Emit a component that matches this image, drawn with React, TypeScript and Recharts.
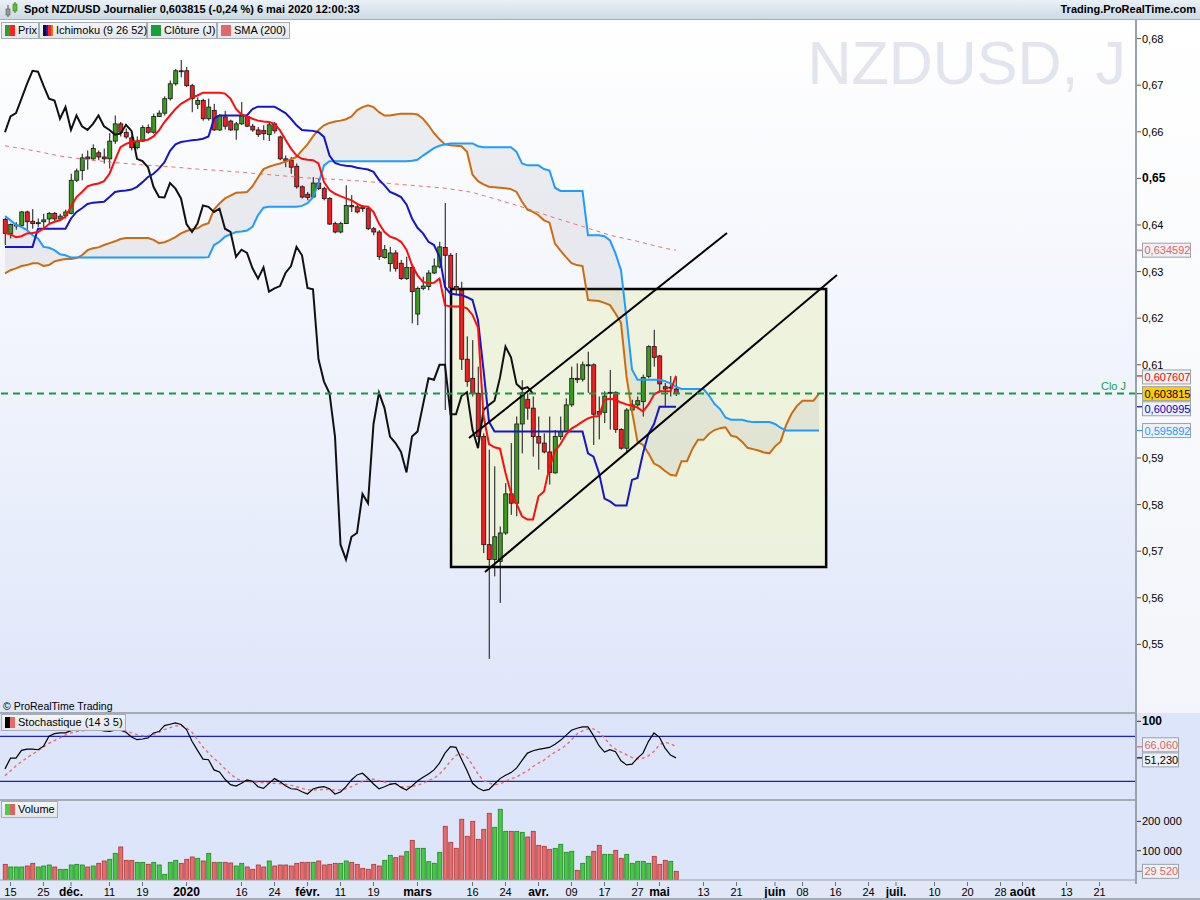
import React from 'react';
import { ComposedChart, Bar, Line, Area, XAxis, YAxis, ReferenceLine, ReferenceArea } from 'recharts';

const FONT = "'Liberation Sans', Arial, Helvetica, sans-serif";

// one slot per trading day, slot 0 = 14 Nov 2019 (25 Dec and 1 Jan have no bar)
const X_DOMAIN: [number, number] = [-0.909, 205.636];
const PRICE_DOMAIN: [number, number] = [0.535494, 0.683562];
const STOCH_DOMAIN: [number, number] = [-4.93, 111.07];
const VOLUME_DOMAIN: [number, number] = [0, 273000];

const opens = [
  0.6412, 0.6382, 0.6398, 0.6399, 0.6428, 0.6408, 0.6403, 0.6407, 0.6413, 0.6425,
  0.6413, 0.642, 0.6425, 0.6496, 0.6517, 0.6546, 0.6542, 0.6555, 0.6546, 0.6542,
  0.658, 0.6617, 0.6599, 0.6587, 0.6566, 0.658, 0.6609, 0.6599, 0.6633, 0.664,
  0.6671, 0.6703, 0.6731, 0.6731, 0.6699, 0.6659, 0.6667, 0.6628, 0.6646, 0.6604,
  0.6632, 0.6623, 0.6604, 0.6617, 0.6633, 0.6612, 0.6604, 0.6603, 0.6594, 0.6617,
  0.6589, 0.6542, 0.6539, 0.6526, 0.6482, 0.6466, 0.646, 0.649, 0.6478, 0.6457,
  0.6403, 0.6385, 0.6403, 0.6442, 0.6439, 0.6439, 0.6435, 0.6392, 0.6385, 0.633,
  0.6317, 0.634, 0.6318, 0.6285, 0.6309, 0.6209, 0.6264, 0.6268, 0.6297, 0.631,
  0.6352, 0.6335, 0.6268, 0.626, 0.6112, 0.6071, 0.6039, 0.5946, 0.5714, 0.5682,
  0.5678, 0.5739, 0.5823, 0.5803, 0.5973, 0.6026, 0.6007, 0.5946, 0.5932, 0.5913,
  0.5868, 0.5946, 0.5957, 0.6014, 0.6071, 0.6069, 0.6098, 0.61, 0.6, 0.5998,
  0.604, 0.6041, 0.5961, 0.5921, 0.6003, 0.6014, 0.6021, 0.6075, 0.6139, 0.6119,
  0.6053, 0.605, 0.6048,
];
const highs = [
  0.6415, 0.6403, 0.6406, 0.643, 0.6431, 0.6434, 0.6414, 0.6424, 0.6428, 0.6428,
  0.6424, 0.6433, 0.651, 0.6521, 0.6553, 0.656, 0.6573, 0.656, 0.6564, 0.6597,
  0.6635, 0.6621, 0.6607, 0.6592, 0.659, 0.6614, 0.6616, 0.6639, 0.6646, 0.6676,
  0.671, 0.6735, 0.6754, 0.6739, 0.6703, 0.6674, 0.6671, 0.6671, 0.666, 0.6638,
  0.6645, 0.6626, 0.6621, 0.6664, 0.6638, 0.6617, 0.661, 0.6614, 0.6619, 0.6621,
  0.6592, 0.6549, 0.6546, 0.6532, 0.6485, 0.6471, 0.6503, 0.65, 0.6482, 0.646,
  0.6407, 0.6407, 0.6485, 0.6464, 0.6446, 0.6442, 0.6439, 0.6396, 0.6389, 0.6357,
  0.6353, 0.6346, 0.6325, 0.6332, 0.6314, 0.6268, 0.6289, 0.6303, 0.6328, 0.6364,
  0.6447, 0.634, 0.634, 0.6278, 0.6161, 0.6153, 0.6096, 0.5953, 0.5918, 0.5882,
  0.5753, 0.5846, 0.5932, 0.5989, 0.6067, 0.6039, 0.6032, 0.5989, 0.5953, 0.5989,
  0.596, 0.5989, 0.6028, 0.6096, 0.6103, 0.6107, 0.6128, 0.6103, 0.6032, 0.6043,
  0.6089, 0.6043, 0.5964, 0.6007, 0.6025, 0.6032, 0.6079, 0.6142, 0.6175, 0.6121,
  0.6061, 0.6076, 0.6073,
];
const lows = [
  0.6357, 0.6371, 0.639, 0.6396, 0.6389, 0.6392, 0.6396, 0.6392, 0.6403, 0.6407,
  0.6409, 0.6414, 0.6423, 0.6492, 0.6496, 0.6519, 0.6539, 0.6539, 0.6532, 0.6521,
  0.6574, 0.659, 0.6585, 0.656, 0.6562, 0.6578, 0.6596, 0.6596, 0.6632, 0.6635,
  0.6667, 0.6699, 0.6717, 0.6696, 0.6642, 0.6649, 0.6624, 0.6624, 0.6602, 0.6602,
  0.6605, 0.6602, 0.6583, 0.6615, 0.661, 0.66, 0.6589, 0.6582, 0.658, 0.6596,
  0.6539, 0.6524, 0.651, 0.6478, 0.6457, 0.6453, 0.6459, 0.6475, 0.6453, 0.64,
  0.6382, 0.6382, 0.6402, 0.6428, 0.6425, 0.6428, 0.6389, 0.6378, 0.6325, 0.6328,
  0.63, 0.63, 0.6282, 0.6282, 0.6189, 0.6185, 0.626, 0.626, 0.6295, 0.6307,
  0.6003, 0.626, 0.625, 0.6089, 0.6053, 0.6032, 0.5939, 0.5696, 0.5469, 0.5646,
  0.5589, 0.5735, 0.5778, 0.5775, 0.591, 0.5982, 0.5903, 0.5875, 0.591, 0.5843,
  0.5867, 0.5939, 0.5956, 0.601, 0.6061, 0.6064, 0.604, 0.5928, 0.594, 0.5975,
  0.5961, 0.5954, 0.5918, 0.591, 0.6, 0.601, 0.5989, 0.6071, 0.6096, 0.604,
  0.6011, 0.6032, 0.6033,
];
const closes = [
  0.6382, 0.6401, 0.64, 0.6428, 0.6407, 0.6403, 0.6405, 0.6411, 0.6425, 0.6413,
  0.6419, 0.6428, 0.6496, 0.6516, 0.6544, 0.6542, 0.6564, 0.6546, 0.6542, 0.658,
  0.6617, 0.6599, 0.6589, 0.6566, 0.658, 0.6609, 0.6599, 0.6633, 0.664, 0.6671,
  0.6703, 0.6731, 0.6729, 0.6699, 0.6671, 0.6667, 0.6628, 0.6653, 0.6604, 0.6635,
  0.6612, 0.6604, 0.6617, 0.6635, 0.6612, 0.6604, 0.6594, 0.6596, 0.6615, 0.6602,
  0.6542, 0.6537, 0.6524, 0.6482, 0.646, 0.6459, 0.649, 0.6478, 0.6457, 0.6402,
  0.6385, 0.6403, 0.6442, 0.6439, 0.6428, 0.6435, 0.6392, 0.6385, 0.6332, 0.6347,
  0.634, 0.6307, 0.6285, 0.6309, 0.6257, 0.6264, 0.6269, 0.6297, 0.6312, 0.6353,
  0.6335, 0.6265, 0.6262, 0.6112, 0.6064, 0.6039, 0.5946, 0.5714, 0.5682, 0.5731,
  0.5739, 0.5823, 0.5803, 0.5973, 0.604, 0.6007, 0.5946, 0.5932, 0.5913, 0.5869,
  0.5946, 0.5957, 0.6014, 0.6071, 0.6068, 0.61, 0.61, 0.5994, 0.5994, 0.6033,
  0.6041, 0.5961, 0.5921, 0.6003, 0.6014, 0.6023, 0.6073, 0.6139, 0.6116, 0.6059,
  0.6048, 0.6052, 0.603815,
];
const tenkan = [
  0.6383, 0.638, 0.6374, 0.6376, 0.6382, 0.6383, 0.6385, 0.6392, 0.6402, 0.6407,
  0.641, 0.6418, 0.6439, 0.646, 0.6471, 0.6483, 0.6487, 0.6489, 0.6494, 0.651,
  0.6539, 0.6567, 0.6574, 0.6578, 0.658, 0.6582, 0.6583, 0.659, 0.6603, 0.6621,
  0.6635, 0.6649, 0.666, 0.6667, 0.6674, 0.6678, 0.6684, 0.6684, 0.6684, 0.6684,
  0.6682, 0.6671, 0.6649, 0.6637, 0.6633, 0.6628, 0.6624, 0.6622, 0.6621, 0.6617,
  0.6603, 0.6583, 0.6564, 0.6549, 0.6542, 0.654, 0.6539, 0.6532, 0.6492, 0.6475,
  0.6467, 0.6462, 0.6457, 0.6453, 0.6446, 0.644, 0.6439, 0.6428, 0.6403, 0.6385,
  0.6375, 0.6371, 0.6364, 0.6347, 0.6314, 0.6292, 0.6278, 0.6275, 0.6276, 0.6285,
  0.6228, 0.6225, 0.6225, 0.6225, 0.6221, 0.6207, 0.618, 0.599, 0.593, 0.5923,
  0.592, 0.5868, 0.5825, 0.5802, 0.5775, 0.5768, 0.5768, 0.5818, 0.5828, 0.588,
  0.5915, 0.593, 0.595, 0.5963, 0.597, 0.5978, 0.5985, 0.5989, 0.599, 0.6025,
  0.6027, 0.6025, 0.6019, 0.6015, 0.6012, 0.6008, 0.6, 0.6015, 0.6036, 0.6043,
  0.6043, 0.6043, 0.607607,
];
const kijun = [
  0.6353, 0.6353, 0.6353, 0.6353, 0.6353, 0.6353, 0.6392, 0.6392, 0.6392, 0.6392,
  0.6392, 0.6392, 0.6414, 0.6428, 0.6436, 0.6445, 0.6448, 0.6449, 0.645, 0.646,
  0.6471, 0.6473, 0.6474, 0.6476, 0.6482, 0.6492, 0.6503, 0.651, 0.6521, 0.6535,
  0.6559, 0.6573, 0.6578, 0.658, 0.6582, 0.6583, 0.6585, 0.659, 0.6628, 0.6635,
  0.6635, 0.6635, 0.6635, 0.6635, 0.6635, 0.6649, 0.6654, 0.6654, 0.6654, 0.6654,
  0.6647, 0.664, 0.6628, 0.6614, 0.6604, 0.6603, 0.6602, 0.6599, 0.6589, 0.6549,
  0.6533, 0.6529, 0.6527, 0.6526, 0.6523, 0.6521, 0.6519, 0.6514, 0.6497, 0.6485,
  0.6471, 0.6466, 0.646, 0.6444, 0.6414, 0.6394, 0.6382, 0.6364, 0.6357, 0.6332,
  0.6267, 0.6253, 0.6251, 0.625, 0.6245, 0.6239, 0.6196, 0.6089, 0.5978, 0.5957,
  0.5957, 0.5957, 0.5957, 0.5957, 0.5957, 0.5957, 0.5957, 0.5957, 0.5957, 0.5957,
  0.5957, 0.5957, 0.5957, 0.5957, 0.5957, 0.5957, 0.591, 0.5903, 0.5868, 0.5813,
  0.5807, 0.5798, 0.5798, 0.5798, 0.5853, 0.5857, 0.591, 0.5952, 0.5973, 0.600995,
  0.600995, 0.600995, 0.600995,
];
const senkouA = [
  0.6419, 0.641, 0.64, 0.6396, 0.6389, 0.6378, 0.6371, 0.6353, 0.6351, 0.6346,
  0.6337, 0.6335, 0.633, 0.633, 0.633, 0.633, 0.633, 0.633, 0.633, 0.633,
  0.633, 0.633, 0.633, 0.633, 0.633, 0.633, 0.633, 0.633, 0.633, 0.633,
  0.633, 0.633, 0.633, 0.633, 0.633, 0.633, 0.633, 0.6331, 0.6357, 0.6364,
  0.6375, 0.638, 0.6385, 0.6386, 0.6388, 0.6396, 0.6421, 0.6437, 0.6439, 0.6439,
  0.6439, 0.6439, 0.6439, 0.6439, 0.6441, 0.6447, 0.6459, 0.6489, 0.6528, 0.6537,
  0.6537, 0.6537, 0.6537, 0.6537, 0.6537, 0.6537, 0.6537, 0.6537, 0.6537, 0.6537,
  0.6537, 0.6537, 0.6537, 0.6537, 0.6538, 0.654, 0.6549, 0.6557, 0.6565, 0.657,
  0.6573, 0.6575, 0.6575, 0.6575, 0.6575, 0.6575, 0.6569, 0.6567, 0.6567, 0.6567,
  0.6567, 0.6567, 0.6567, 0.6557, 0.6532, 0.6528, 0.6528, 0.6528, 0.652, 0.6517,
  0.648, 0.6473, 0.6473, 0.6473, 0.6473, 0.6473, 0.6378, 0.6378, 0.6378, 0.6376,
  0.6367, 0.6339, 0.6303, 0.62, 0.609, 0.6068, 0.6068, 0.6068, 0.6068, 0.6068,
  0.6065, 0.606, 0.6053, 0.6048, 0.6048, 0.6048, 0.6048, 0.6048, 0.6034, 0.6016,
  0.6005, 0.5987, 0.5982, 0.5982, 0.5982, 0.5979, 0.5977, 0.5977, 0.5977, 0.5977,
  0.5973, 0.5965, 0.595892, 0.595892, 0.595892, 0.595892, 0.595892, 0.595892, 0.595892,
];
const senkouB = [
  0.6296, 0.6303, 0.6307, 0.6312, 0.6314, 0.6318, 0.6318, 0.6312, 0.6314, 0.6322,
  0.6325, 0.6327, 0.6327, 0.6329, 0.6335, 0.6346, 0.635, 0.6352, 0.6357, 0.6361,
  0.6365, 0.637, 0.6372, 0.6372, 0.6372, 0.6372, 0.6372, 0.6368, 0.6361, 0.6363,
  0.6368, 0.6374, 0.6382, 0.6387, 0.6391, 0.6393, 0.64, 0.6404, 0.6433, 0.6446,
  0.6457, 0.6463, 0.6469, 0.647, 0.6471, 0.6483, 0.6502, 0.652, 0.6525, 0.6529,
  0.6532, 0.6536, 0.6541, 0.6546, 0.656, 0.6573, 0.659, 0.6604, 0.6614, 0.6619,
  0.6622, 0.6624, 0.6627, 0.6633, 0.6646, 0.6653, 0.6657, 0.6653, 0.6642, 0.6635,
  0.6635, 0.6637, 0.6639, 0.6639, 0.6639, 0.6637, 0.6628, 0.6614, 0.6597, 0.6584,
  0.6573, 0.6571, 0.657, 0.6569, 0.6557, 0.6508, 0.6494, 0.6487, 0.6482, 0.6481,
  0.648, 0.6479, 0.6477, 0.6471, 0.645, 0.6433, 0.6428, 0.6421, 0.641, 0.6405,
  0.636, 0.6345, 0.6331, 0.6318, 0.6314, 0.6312, 0.6239, 0.6238, 0.6237, 0.6233,
  0.6228, 0.621, 0.619, 0.6075, 0.6, 0.5935, 0.5928, 0.591, 0.5888, 0.5882,
  0.5872, 0.5864, 0.5862, 0.5893, 0.5893, 0.592, 0.5939, 0.5939, 0.5952, 0.596,
  0.5964, 0.5966, 0.5948, 0.5945, 0.5935, 0.5922, 0.5919, 0.5916, 0.5912, 0.591,
  0.5925, 0.5935, 0.597, 0.5995, 0.6012, 0.6023, 0.6023, 0.6023, 0.6038,
];
// lagging span: the closes plotted 26 bars back
const chikou = closes.slice(26);
const smaSlots = [0, 5, 10, 15, 20, 25, 30, 35, 40, 45, 50, 55, 60, 65, 70, 75, 80, 85, 90, 95, 100, 105, 110, 115, 120, 122];
const smaValues = [
  0.657, 0.656, 0.6548, 0.654, 0.6534, 0.6529, 0.6525, 0.652, 0.6516, 0.6511, 0.6506, 0.6501, 0.6498,
  0.6494, 0.6489, 0.6484, 0.6479, 0.647, 0.6453, 0.6435, 0.6415, 0.6397, 0.6378, 0.6365, 0.635, 0.634592,
];
const stochK = [
  36.6, 50.9, 50.9, 61.2, 63.0, 63.0, 62.1, 66.6, 80.0, 83.6,
  84.5, 84.5, 87.6, 89.9, 90.7, 89.9, 89.0, 88.5, 87.2, 86.7,
  88.1, 88.1, 85.4, 79.1, 75.5, 76.4, 77.8, 84.5, 86.3, 94.3,
  96.1, 97.9, 95.7, 89.0, 73.3, 61.2, 49.5, 48.7, 35.2, 32.5,
  22.7, 15.5, 13.7, 17.3, 21.8, 20.0, 12.8, 10.6, 17.3, 23.6,
  19.5, 14.2, 10.1, 9.7, 6.1, 3.0, 9.7, 11.9, 12.8, 10.1,
  3.0, 5.7, 12.8, 21.8, 28.5, 30.7, 24.0, 16.4, 10.1, 12.8,
  16.0, 17.3, 11.9, 8.3, 13.7, 20.4, 25.4, 29.8, 35.2, 44.2,
  57.6, 66.1, 65.2, 49.5, 34.3, 17.3, 11.0, 7.5, 9.2, 16.4,
  23.6, 28.1, 31.6, 37.5, 47.8, 57.6, 60.7, 62.5, 63.9, 65.2,
  69.3, 74.6, 81.3, 88.1, 90.7, 92.5, 92.5, 80.9, 67.5, 59.0,
  62.1, 59.4, 47.3, 41.9, 42.8, 50.9, 57.6, 73.3, 84.5, 78.7,
  64.3, 54.9, 51.23,
];
const stochD = [
  27.6, 33.9, 40.6, 46.4, 51.3, 56.3, 60.7, 65.7, 70.6, 74.6,
  77.8, 81.8, 84.5, 86.3, 87.2, 88.1, 88.1, 88.1, 88.1, 88.1,
  88.1, 88.1, 87.2, 84.5, 82.2, 80.9, 80.9, 82.7, 85.4, 89.0,
  91.6, 93.9, 94.3, 91.2, 85.4, 75.5, 65.7, 57.6, 50.4, 44.2,
  36.6, 29.8, 24.0, 20.9, 19.5, 19.1, 18.7, 18.2, 17.8, 17.3,
  16.9, 16.0, 14.6, 12.8, 10.6, 8.8, 8.4, 8.8, 9.2, 8.8,
  8.4, 8.8, 10.1, 12.8, 16.4, 20.0, 22.7, 22.7, 20.9, 19.1,
  17.3, 16.0, 12.8, 12.8, 13.3, 14.6, 17.3, 20.9, 24.0, 29.8,
  37.5, 46.9, 54.5, 56.7, 52.2, 41.9, 29.8, 20.9, 17.8, 15.5,
  16.4, 20.0, 23.6, 25.4, 30.3, 33.9, 39.7, 44.2, 48.2, 54.0,
  59.0, 63.0, 67.9, 75.5, 83.1, 87.2, 89.9, 89.9, 85.4, 77.8,
  68.8, 63.0, 59.0, 55.4, 51.8, 50.0, 50.9, 54.0, 59.9, 68.8,
  71.9, 70.1, 66.06,
];
const volumes = [
  53500, 44400, 44400, 44400, 47800, 56900, 44400, 47800, 51200, 44400,
  36400, 36400, 51200, 53500, 51200, 44400, 47800, 56900, 64900, 70600,
  91000, 112700, 67100, 67100, 60300, 60300, 53500, 60300, 51200, 19300,
  60300, 67100, 56900, 70600, 78500, 74000, 64900, 91000, 60300, 60300,
  60300, 58000, 47800, 56900, 44400, 36400, 51200, 44400, 64900, 47800,
  51200, 51200, 47800, 56900, 60300, 60300, 60300, 64900, 51200, 53500,
  56900, 56900, 64900, 60300, 53500, 39800, 36400, 53500, 47800, 67100,
  84200, 76200, 81900, 96700, 135400, 108100, 108100, 62600, 56900, 94500,
  183200, 128600, 108100, 207100, 149100, 200300, 138800, 173000, 227600, 179800,
  241300, 166100, 166100, 166100, 162700, 146800, 166100, 118400, 114900, 104700,
  108100, 121800, 94500, 97900, 33000, 56900, 80800, 97900, 118400, 87600,
  87600, 101300, 74000, 87600, 56900, 63700, 63700, 56900, 80800, 53500,
  67100, 63700, 29520,
];
const dateTicks = [1, 7, 12, 19, 25, 33, 43, 49, 55, 61, 67, 75, 85, 91, 97, 103, 109, 115, 119, 127, 133, 140, 145, 151, 157, 162, 169, 175, 181, 185, 193, 199];
const dateLabels = ['15', '25', 'déc.', '11', '19', '2020', '16', '24', 'févr.', '11', '19', 'mars', '16', '24', 'avr.', '09', '17', '27', 'mai', '13', '21', 'juin', '08', '16', '24', 'juil.', '10', '20', '28', 'août', '13', '21'];
const boldDateLabels = ['déc.', '2020', 'févr.', 'mars', 'avr.', 'mai', 'juin', 'juil.', 'août'];
const priceTicks = [0.55, 0.56, 0.57, 0.58, 0.59, 0.61, 0.62, 0.63, 0.64, 0.65, 0.66, 0.67, 0.68];
const stochTicks = [100];
const volumeTicks = [100000, 200000];

// drawn objects (in chart data coordinates: slot, price)
const boxZone = { x1: 81.1, x2: 149.3, low: 0.56661, high: 0.62627 };
const channelUpper = [{ x: 84.36, y: 0.59429 }, { x: 131.27, y: 0.63828 }];
const channelLower = [{ x: 87.27, y: 0.56554 }, { x: 151.27, y: 0.62927 }];
const lastClose = 0.603815;

const rows = senkouA.map((ssa, i) => {
  const si = smaSlots.indexOf(i);
  return {
    i,
    o: opens[i], h: highs[i], l: lows[i], c: closes[i],
    tenkan: tenkan[i], kijun: kijun[i], chikou: chikou[i],
    ssa, ssb: senkouB[i],
    sma: si >= 0 ? smaValues[si] : undefined,
    k: stochK[i], d: stochD[i], v: volumes[i],
  };
});

const candleKey = (r: any) => (r.o == null ? undefined : [r.l, r.h]);
const cloudKey = (r: any) => [r.ssa, r.ssb];

const renderCandle = (props: any) => {
  const { x, y, width, height, payload } = props;
  if (!payload || payload.o == null || !isFinite(y) || !isFinite(height)) return <g />;
  const { o, h, l, c } = payload;
  const ratio = height / (h - l);
  const yo = y + (h - o) * ratio;
  const yc = y + (h - c) * ratio;
  const top = Math.min(yo, yc);
  const bot = Math.max(yo, yc);
  const cx = x + width / 2;
  const up = c >= o;
  return (
    <g>
      <line x1={cx} x2={cx} y1={y} y2={y + height} stroke="#111" strokeWidth={1} />
      <rect x={x} y={top} width={width} height={Math.max(bot - top, 1)} fill={up ? '#3c9c1c' : '#f01e1e'} stroke="#151515" strokeWidth={0.8} />
    </g>
  );
};

const renderVolume = (props: any) => {
  const { x, y, width, height, payload } = props;
  if (!payload || payload.v == null || !isFinite(y) || !isFinite(height)) return <g />;
  const up = payload.c >= payload.o;
  return <rect x={x} y={y} width={width} height={height} fill={up ? '#48c848' : '#e86c6c'} stroke={up ? '#1c861c' : '#a83434'} strokeWidth={0.8} />;
};

const PriceTick = (props: any) => {
  const { x, y, payload } = props;
  const v = payload.value;
  const bold = Math.abs(v - 0.65) < 1e-6;
  return (
    <text x={x} y={y} dy={4} fontSize={bold ? 12 : 11} fontWeight={bold ? 'bold' : 'normal'} fill="#000" fontFamily={FONT}>
      {v.toFixed(2).replace('.', ',')}
    </text>
  );
};

const StochTick = (props: any) => {
  const { x, y, payload } = props;
  return (
    <text x={x} y={y} dy={4} fontSize={12} fontWeight="bold" fill="#000" fontFamily={FONT}>{payload.value}</text>
  );
};

const VolumeTick = (props: any) => {
  const { x, y, payload } = props;
  const s = String(payload.value).replace(/\B(?=(\d{3})+(?!\d))/g, ' ');
  return <text x={x} y={y} dy={4} fontSize={11} fill="#000" fontFamily={FONT}>{s}</text>;
};

const DateTick = (props: any) => {
  const { x, y, payload } = props;
  const idx = dateTicks.indexOf(payload.value);
  if (idx < 0) return <g />;
  const label = dateLabels[idx];
  const bold = boldDateLabels.includes(label);
  return (
    <g>
      <line x1={x} x2={x} y1={y} y2={y + 4} stroke="#6a7280" />
      <text x={x} y={y + 14} textAnchor="middle" fontSize={bold ? 12 : 11} fontWeight={bold ? 'bold' : 'normal'} fill="#000" fontFamily={FONT}>
        {label}
      </text>
    </g>
  );
};

const ValueBox = (props: any) => {
  const { viewBox, text, color, bg, tick, nudge = 0, boxWidth = 48 } = props;
  if (!viewBox) return null;
  const ax = viewBox.x + viewBox.width;
  const yv = viewBox.y;
  const cy = yv + nudge;
  return (
    <g>
      <line x1={ax + 1} x2={ax + 6} y1={yv} y2={yv} stroke={tick || color} strokeWidth={1.2} />
      <rect x={ax + 6.5} y={cy - 7} width={boxWidth} height={14} fill={bg || '#eef1f6'} stroke="#98a2ad" strokeWidth={1} />
      <text x={ax + 8.5} y={cy + 4} fontSize={11} fill={color} fontFamily={FONT}>{text}</text>
    </g>
  );
};

const CloseLabel = (props: any) => {
  const { viewBox } = props;
  if (!viewBox) return null;
  return (
    <text x={viewBox.x + viewBox.width - 10} y={viewBox.y - 4} textAnchor="end" fontSize={11} fill="#14a03c" fontFamily={FONT}>
      Clo J
    </text>
  );
};

const LegendBox = ({ left, top, width, colors, text }: { left: number; top: number; width: number; colors: string[]; text: string }) => (
  <div
    style={{
      position: 'absolute', left, top, width, height: 17, boxSizing: 'border-box',
      border: '1px solid #a6afb9', background: 'linear-gradient(#f3f5f7, #e2e6ea)',
      fontSize: 11, lineHeight: '15px', color: '#000', fontFamily: FONT, whiteSpace: 'nowrap',
    }}
  >
    <div style={{ position: 'absolute', left: 3, top: 2, width: 10, height: 11, display: 'flex' }}>
      {colors.map((c, k) => (
        <div key={k} style={{ flex: 1, background: c }} />
      ))}
    </div>
    <span style={{ position: 'absolute', left: 16, top: 0 }}>{text}</span>
  </div>
);

export default function App() {
  return (
    <div style={{ position: 'absolute', left: 0, top: 0, width: 1200, height: 900, overflow: 'hidden', background: '#dfe6f8', fontFamily: FONT }}>
      {/* title bar */}
      <div style={{ position: 'absolute', left: 0, top: 0, width: 1200, height: 19, background: 'linear-gradient(#eaf1f6, #cbdae5)', borderBottom: '1px solid #9fb0bf' }}>
        <svg width={16} height={16} style={{ position: 'absolute', left: 3, top: 2 }}>
          <line x1={5} x2={5} y1={3} y2={15} stroke="#555" />
          <rect x={3} y={7} width={4} height={6} fill="#9a9a9a" stroke="#555" strokeWidth={0.6} />
          <line x1={12} x2={12} y1={0} y2={11} stroke="#555" />
          <rect x={10} y={2} width={4} height={7} fill="#59c42a" stroke="#3a7a20" strokeWidth={0.6} />
        </svg>
        <span style={{ position: 'absolute', left: 24, top: 2, fontSize: 11, fontWeight: 'bold', lineHeight: '15px', whiteSpace: 'nowrap' }}>
          Spot NZD/USD Journalier 0,603815 (-0,24 %) 6 mai 2020 12:00:33
        </span>
        <span style={{ position: 'absolute', right: 4, top: 2, fontSize: 11, fontWeight: 'bold', lineHeight: '15px', whiteSpace: 'nowrap' }}>
          Trading.ProRealTime.com
        </span>
      </div>

      {/* panel backgrounds */}
      <div style={{ position: 'absolute', left: 0, top: 20, width: 1136, height: 693, background: 'linear-gradient(#ffffff 0%, #f2f5fc 45%, #dfe6fa 100%)' }} />
      <div style={{ position: 'absolute', left: 1136, top: 20, width: 64, height: 693, background: 'linear-gradient(#ffffff, #f3f5fa)' }} />
      <div style={{ position: 'absolute', left: 0, top: 713, width: 1200, height: 167, background: '#dde5fa' }} />
      <div style={{ position: 'absolute', left: 0, top: 880, width: 1200, height: 20, background: '#e0e7f7' }} />

      {/* watermark */}
      <svg width={1200} height={100} style={{ position: 'absolute', left: 0, top: 0 }}>
        <text x={1126} y={84} textAnchor="end" fontSize={61} fill="#e3e5ee" fontFamily={FONT}>NZDUSD, J</text>
      </svg>

      {/* main price panel */}
      <div style={{ position: 'absolute', left: 0, top: 22 }}>
        <ComposedChart width={1200} height={690} data={rows} margin={{ top: 0, right: 0, bottom: 0, left: 0 }}>
          <XAxis dataKey="i" type="number" domain={X_DOMAIN} allowDataOverflow hide />
          <YAxis
            orientation="right" width={64} domain={PRICE_DOMAIN} allowDataOverflow ticks={priceTicks} interval={0}
            axisLine={false} tickLine={{ stroke: '#555' }} tickSize={5} tickMargin={1} tick={<PriceTick />}
          />
          <ReferenceArea
            x1={boxZone.x1} x2={boxZone.x2} y1={boxZone.low} y2={boxZone.high}
            fill="#eef3d6" fillOpacity={0.8} stroke="#000" strokeWidth={2.5} ifOverflow="visible" zIndex={50}
          />
          <Area dataKey={cloudKey} type="linear" stroke="none" fill="#80808e" fillOpacity={0.12} isAnimationActive={false} zIndex={60} />
          <Line dataKey="sma" type="linear" stroke="#e87474" strokeWidth={1} strokeDasharray="4 4" dot={false} connectNulls isAnimationActive={false} />
          <Line dataKey="ssb" type="linear" stroke="#cd6c0e" strokeWidth={2} dot={false} isAnimationActive={false} />
          <Line dataKey="ssa" type="linear" stroke="#1f9cff" strokeWidth={2} dot={false} isAnimationActive={false} />
          <Bar dataKey={candleKey} barSize={4} shape={renderCandle} isAnimationActive={false} />
          <Line dataKey="chikou" type="linear" stroke="#111" strokeWidth={2} dot={false} isAnimationActive={false} />
          <Line dataKey="kijun" type="linear" stroke="#1616c6" strokeWidth={2} dot={false} isAnimationActive={false} />
          <Line dataKey="tenkan" type="linear" stroke="#ff0c0c" strokeWidth={2} dot={false} isAnimationActive={false} />
          <ReferenceLine segment={channelUpper} stroke="#000" strokeWidth={2} ifOverflow="visible" />
          <ReferenceLine segment={channelLower} stroke="#000" strokeWidth={2} ifOverflow="visible" />
          <ReferenceLine y={lastClose} stroke="#139b3d" strokeWidth={2} strokeDasharray="7 5" label={<CloseLabel />} />
          <ReferenceLine y={smaValues[smaValues.length - 1]} stroke="none" label={<ValueBox text="0,634592" color="#e26464" />} />
          <ReferenceLine y={tenkan[tenkan.length - 1]} stroke="none" label={<ValueBox text="0,607607" color="#ff0000" nudge={1} />} />
          <ReferenceLine y={lastClose} stroke="none" label={<ValueBox text="0,603815" color="#000" bg="#ffcc00" tick="#139b3d" />} />
          <ReferenceLine y={kijun[kijun.length - 1]} stroke="none" label={<ValueBox text="0,600995" color="#0000cc" nudge={2} />} />
          <ReferenceLine y={senkouA[senkouA.length - 1]} stroke="none" label={<ValueBox text="0,595892" color="#1e9bff" />} />
        </ComposedChart>
      </div>

      {/* stochastic panel */}
      <div style={{ position: 'absolute', left: 0, top: 713 }}>
        <ComposedChart width={1200} height={87} data={rows} margin={{ top: 0, right: 0, bottom: 0, left: 0 }}>
          <XAxis dataKey="i" type="number" domain={X_DOMAIN} allowDataOverflow hide />
          <YAxis
            orientation="right" width={64} domain={STOCH_DOMAIN} allowDataOverflow ticks={stochTicks} interval={0}
            axisLine={false} tickLine={{ stroke: '#333' }} tickSize={5} tickMargin={1} tick={<StochTick />}
          />
          <ReferenceLine y={80} stroke="#1c1cd4" strokeWidth={1.2} />
          <ReferenceLine y={20} stroke="#1c1cd4" strokeWidth={1.2} />
          <Line dataKey="d" type="linear" stroke="#ee6c6c" strokeWidth={1.4} strokeDasharray="3 3" dot={false} isAnimationActive={false} />
          <Line dataKey="k" type="linear" stroke="#000" strokeWidth={1.2} dot={false} isAnimationActive={false} />
          <ReferenceLine y={stochD[stochD.length - 1]} stroke="none" label={<ValueBox text="66,060" color="#e26464" nudge={-2} boxWidth={36} />} />
          <ReferenceLine y={stochK[stochK.length - 1]} stroke="none" label={<ValueBox text="51,230" color="#000" nudge={2} boxWidth={36} />} />
        </ComposedChart>
      </div>

      {/* volume panel with date axis */}
      <div style={{ position: 'absolute', left: 0, top: 800 }}>
        <ComposedChart width={1200} height={100} data={rows} margin={{ top: 0, right: 0, bottom: 0, left: 0 }}>
          <XAxis
            dataKey="i" type="number" domain={X_DOMAIN} allowDataOverflow ticks={dateTicks} interval={0} height={20}
            tickSize={0} tickLine={false} axisLine={{ stroke: '#98a2ae' }} tick={<DateTick />}
          />
          <YAxis
            orientation="right" width={64} domain={VOLUME_DOMAIN} allowDataOverflow ticks={volumeTicks} interval={0}
            axisLine={false} tickLine={{ stroke: '#333' }} tickSize={5} tickMargin={1} tick={<VolumeTick />}
          />
          <Bar dataKey="v" barSize={4} shape={renderVolume} isAnimationActive={false} />
          <ReferenceLine y={volumes[volumes.length - 1]} stroke="none" label={<ValueBox text="29 520" color="#e26464" boxWidth={36} />} />
        </ComposedChart>
      </div>

      {/* separators and axis line */}
      <div style={{ position: 'absolute', left: 0, top: 712, width: 1136, height: 2, background: '#a3acb7' }} />
      <div style={{ position: 'absolute', left: 0, top: 799, width: 1136, height: 2, background: '#a3acb7' }} />
      <div style={{ position: 'absolute', left: 1135, top: 20, width: 1.5, height: 864, background: '#98a2ae' }} />
      <div style={{ position: 'absolute', left: 0, top: 898, width: 1200, height: 2, background: '#a3acb7' }} />

      {/* legends */}
      <LegendBox left={1} top={22} width={38} colors={['#2ca02c', '#ff2020']} text="Prix" />
      <LegendBox left={39} top={22} width={108} colors={['#111', '#1a1ad0', '#ff2020', '#e07a10']} text="Ichimoku (9 26 52)" />
      <LegendBox left={147} top={22} width={70} colors={['#16a035']} text="Clôture (J)" />
      <LegendBox left={217} top={22} width={73} colors={['#e06868']} text="SMA (200)" />
      <div style={{ position: 'absolute', left: 3, top: 700, fontSize: 10.5, lineHeight: '12px', whiteSpace: 'nowrap' }}>© ProRealTime Trading</div>
      <LegendBox left={1} top={714} width={125} colors={['#000', '#e86a6a']} text="Stochastique (14 3 5)" />
      <LegendBox left={1} top={801} width={57} colors={['#44d044', '#e06060']} text="Volume" />
    </div>
  );
}
